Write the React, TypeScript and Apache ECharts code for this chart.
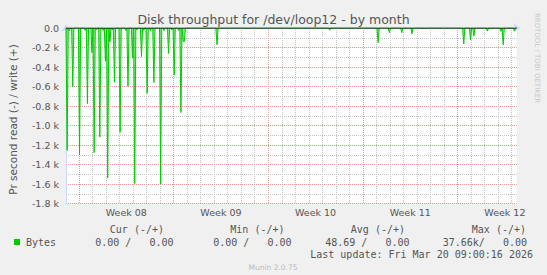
import React, { useEffect, useRef } from "react";
import * as echarts from "echarts";

// x: hours since left edge of the plot (800 h ≈ 33.3 days, ending Fri Mar 20 09:00)
const totalHours = 800;
// 2-hour samples that are not zero (read bytes per second, drawn negative)
const readHours = [2, 6, 12, 24, 34, 38, 46, 50, 54, 60, 66, 70, 74, 78, 82, 86, 96, 106, 110, 118, 122, 126, 134, 138, 144, 150, 156, 168, 174, 182, 188, 192, 200, 204, 208, 210, 268, 468, 554, 574, 596, 614, 706, 718, 724, 748, 772, 776, 796];
const readValues = [-1255, -30, -604, -1300, -25, -775, -253, -1277, -20, -1117, -25, -340, -1537, -143, -20, -555, -1070, -25, -598, -309, -1593, -20, -292, -25, -670, -30, -560, -1600, -25, -261, -20, -483, -25, -866, -138, -138, -170, -22, -150, -48, -48, -60, -162, -122, -82, -32, -34, -172, -32];

const weekStarts = [23, 191, 359, 527, 695];
const weekLabels = ["Week 08", "Week 09", "Week 10", "Week 11", "Week 12"];

const legendHeaders = ["Cur (-/+)", "Min (-/+)", "Avg (-/+)", "Max (-/+)"];
const legendValues = ["0.00 /   0.00", "0.00 /   0.00", "48.69 /   0.00", "37.66k/   0.00"];
const lastUpdate = "Last update: Fri Mar 20 09:00:16 2026";

const TEXT = "#555555";
const SANS = "DejaVu Sans";
const MONO = "DejaVu Sans Mono";

export default function App() {
  const ref = useRef<HTMLDivElement>(null);
  useEffect(() => {
    const chart = echarts.init(ref.current!, null, { renderer: "svg" });

    const valueAt: Record<number, number> = {};
    readHours.forEach((h, i) => (valueAt[h] = readValues[i]));
    const points: number[][] = [];
    for (let h = 0; h <= totalHours; h += 2) points.push([h, valueAt[h] ?? 0]);

    const dayLines: number[] = [];
    for (let d = weekStarts[0]; d <= totalHours; d += 24) {
      if (!weekStarts.includes(d)) dayLines.push(d);
    }
    const weekMids = weekStarts.map((w) => w + 84);

    const headerRight = [164, 284.5, 405, 526];
    const valueRight = [173.5, 291.5, 409.5, 527];

    const graphic: any[] = [
      { type: "text", x: 273.5, y: 19.5, style: { text: "Disk throughput for /dev/loop12 - by month", fill: TEXT, fontSize: 12.5, fontFamily: SANS, align: "center", verticalAlign: "middle" } },
      { type: "text", x: 13, y: 119.5, rotation: Math.PI / 2, style: { text: "Pr second read (-) / write (+)", fill: TEXT, fontSize: 10.5, fontFamily: SANS, align: "center", verticalAlign: "middle" } },
      { type: "text", x: 537, y: 58, rotation: -Math.PI / 2, style: { text: "RRDTOOL / TOBI OETIKER", fill: "#c8c8c8", fontSize: 7, fontFamily: SANS, align: "center", verticalAlign: "middle" } },
      { type: "rect", shape: { x: 14, y: 239, width: 6, height: 6 }, style: { fill: "#00cc00" } },
      { type: "text", x: 26, y: 242, style: { text: "Bytes", fill: TEXT, fontSize: 10, fontFamily: MONO, align: "left", verticalAlign: "middle" } },
      { type: "text", x: 533, y: 254.5, style: { text: lastUpdate, fill: TEXT, fontSize: 10, fontFamily: MONO, align: "right", verticalAlign: "middle" } },
      { type: "text", x: 273, y: 267, style: { text: "Munin 2.0.75", fill: "#bbbbbb", fontSize: 7.5, fontFamily: SANS, align: "center", verticalAlign: "middle" } },
    ];
    legendHeaders.forEach((t, i) =>
      graphic.push({ type: "text", x: headerRight[i], y: 229.5, style: { text: t, fill: TEXT, fontSize: 10, fontFamily: MONO, align: "right", verticalAlign: "middle" } })
    );
    legendValues.forEach((t, i) =>
      graphic.push({ type: "text", x: valueRight[i], y: 242, style: { text: t, fill: TEXT, fontSize: 10, fontFamily: MONO, align: "right", verticalAlign: "middle" } })
    );

    const minorGrid = { color: "#c4c4c4", width: 1, type: [1, 1] };
    const majorGrid = { color: "#e69a9a", width: 1, type: [1, 1] };

    const option: any = {
      animation: false,
      backgroundColor: "#f0f0f0",
      grid: {
        left: 66, top: 28, width: 450.7, height: 175.7,
        show: true, backgroundColor: "#ffffff", borderWidth: 0,
        containLabel: false, outerBoundsMode: "none",
      },
      xAxis: [
        {
          type: "value", min: 0, max: totalHours, position: "bottom",
          axisLine: { show: true, lineStyle: { color: "#CFD6F8", width: 1 }, symbol: ["none", "arrow"], symbolSize: [7, 7], symbolOffset: [0, 3.5] },
          axisTick: { show: false, customValues: dayLines },
          axisLabel: { show: false },
          splitLine: { show: true, lineStyle: minorGrid },
        },
        {
          type: "value", min: 0, max: totalHours, position: "bottom",
          axisLine: { show: false },
          axisTick: { show: false, customValues: weekStarts },
          axisLabel: {
            show: true, customValues: weekMids,
            formatter: (v: number) => { const i = weekMids.indexOf(v); return i >= 0 ? weekLabels[i] : ""; },
            color: TEXT, fontSize: 9.5, fontFamily: SANS, margin: 4,
          },
          splitLine: { show: true, lineStyle: majorGrid },
        },
      ],
      yAxis: {
        type: "value", min: -1800, max: 0, interval: 200,
        axisLine: { show: true, lineStyle: { color: "#CFD6F8", width: 1 }, symbol: ["none", "arrow"], symbolSize: [7, 7], symbolOffset: [0, 3.5] },
        axisTick: { show: false },
        axisLabel: {
          formatter: (v: number) => (v === 0 ? "0.0" : `${(v / 1000).toFixed(1)} k`),
          color: TEXT, fontSize: 9.5, fontFamily: SANS, margin: 7,
        },
        splitLine: { show: true, lineStyle: majorGrid },
        minorTick: { show: false, splitNumber: 2 },
        minorSplitLine: { show: true, lineStyle: minorGrid },
      },
      series: [
        {
          type: "line", xAxisIndex: 0, data: points, symbol: "none", showSymbol: false, silent: true,
          lineStyle: { color: "#00cc00", width: 1 }, itemStyle: { color: "#00cc00" },
          areaStyle: { color: "#00cc00", opacity: 0.45 }, z: 3,
        },
        {
          type: "line", xAxisIndex: 0, data: [[0, 0], [totalHours, 0]], symbol: "none", showSymbol: false, silent: true,
          lineStyle: { color: "#000000", width: 1 }, z: 4,
        },
      ],
      graphic,
    };
    chart.setOption(option);
    return () => chart.dispose();
  }, []);
  return <div ref={ref} style={{ position: "fixed", left: 0, top: 0, width: 547, height: 275 }} />;
}
